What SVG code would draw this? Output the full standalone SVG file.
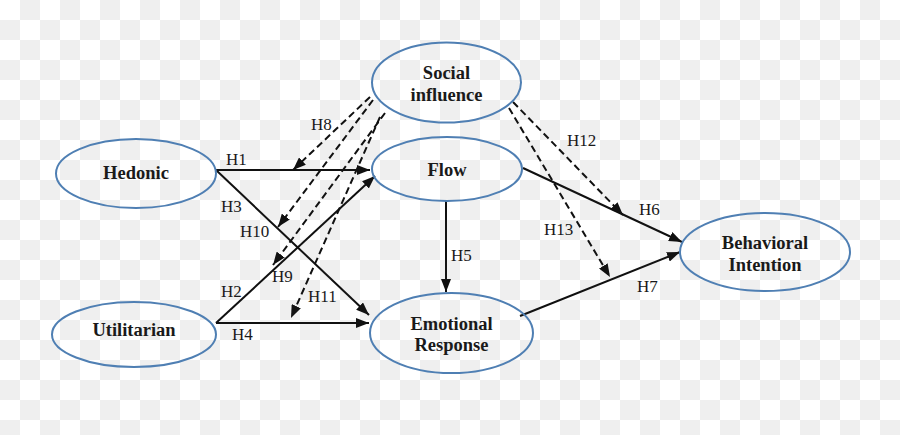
<svg xmlns="http://www.w3.org/2000/svg" width="900" height="435" viewBox="0 0 900 435">
<defs>
<pattern id="chk" x="0" y="0" width="40" height="40" patternUnits="userSpaceOnUse">
<rect width="40" height="40" fill="#ffffff"/>
<rect x="20" y="0" width="20" height="20" fill="#efefef"/>
<rect x="0" y="20" width="20" height="20" fill="#efefef"/>
</pattern>
<marker id="ah" viewBox="0 0 13 10" refX="13" refY="5" markerWidth="13" markerHeight="10" markerUnits="userSpaceOnUse" orient="auto">
<path d="M0,0 L13,5 L0,10 z" fill="#111"/>
</marker>
</defs>
<style>
.node ellipse{fill:none;stroke:#4f7fb3;stroke-width:2}
.node text{font-family:'Liberation Serif','DejaVu Serif',serif;font-weight:bold;font-size:18.5px;fill:#1a1a1a;text-anchor:middle}
.solid{stroke:#111;stroke-width:2;fill:none;marker-end:url(#ah)}
.dash{stroke:#111;stroke-width:2;fill:none;stroke-dasharray:7 4;marker-end:url(#ah)}
.lbl{font-family:'Liberation Serif','DejaVu Serif',serif;font-size:17px;fill:#1a1a1a}
</style>
<rect width="900" height="435" fill="url(#chk)"/>
<g id="connectors" font-family="Liberation Serif, serif">
<line class="solid" x1="216" y1="170" x2="370" y2="170"/>
<line class="solid" x1="216" y1="170" x2="369" y2="315"/>
<line class="solid" x1="216" y1="323" x2="375" y2="176"/>
<line class="solid" x1="216" y1="323" x2="369" y2="323"/>
<line class="solid" x1="446" y1="201" x2="446" y2="292"/>
<line class="solid" x1="523" y1="168" x2="682" y2="242"/>
<line class="solid" x1="520" y1="316" x2="680" y2="252"/>
<line class="dash" x1="370" y1="97" x2="293" y2="170"/>
<line class="dash" x1="373" y1="100" x2="278" y2="227"/>
<line class="dash" x1="385" y1="113" x2="273" y2="265"/>
<line class="dash" x1="380" y1="117" x2="291" y2="318"/>
<line class="dash" x1="513" y1="102" x2="623" y2="215"/>
<line class="dash" x1="509" y1="108" x2="610" y2="277"/>
<text class="lbl" x="226" y="165">H1</text>
<text class="lbl" x="221" y="212">H3</text>
<text class="lbl" x="311" y="130">H8</text>
<text class="lbl" x="240" y="237">H10</text>
<text class="lbl" x="272" y="282">H9</text>
<text class="lbl" x="221" y="297">H2</text>
<text class="lbl" x="308" y="302">H11</text>
<text class="lbl" x="232" y="340">H4</text>
<text class="lbl" x="451" y="261">H5</text>
<text class="lbl" x="567" y="146">H12</text>
<text class="lbl" x="639" y="215">H6</text>
<text class="lbl" x="544" y="235">H13</text>
<text class="lbl" x="637" y="292">H7</text>
</g>
<g id="hedonic" class="node">
<ellipse cx="136" cy="173.5" rx="80" ry="34.5"/>
<text x="136" y="179">Hedonic</text>
</g>
<g id="utilitarian" class="node">
<ellipse cx="134" cy="334.5" rx="82" ry="32.5"/>
<text x="134" y="336">Utilitarian</text>
</g>
<g id="social" class="node">
<ellipse cx="446.5" cy="82.5" rx="74.5" ry="40"/>
<text x="446.5" y="79">Social</text>
<text x="446.5" y="101">influence</text>
</g>
<g id="flow" class="node">
<ellipse cx="447" cy="169" rx="75" ry="32"/>
<text x="447" y="176">Flow</text>
</g>
<g id="emotional" class="node">
<ellipse cx="451.5" cy="333" rx="81.5" ry="40"/>
<text x="451.5" y="330">Emotional</text>
<text x="451.5" y="351">Response</text>
</g>
<g id="behavioral" class="node">
<ellipse cx="765" cy="252" rx="85" ry="39"/>
<text x="765" y="249">Behavioral</text>
<text x="765" y="271">Intention</text>
</g>
</svg>
